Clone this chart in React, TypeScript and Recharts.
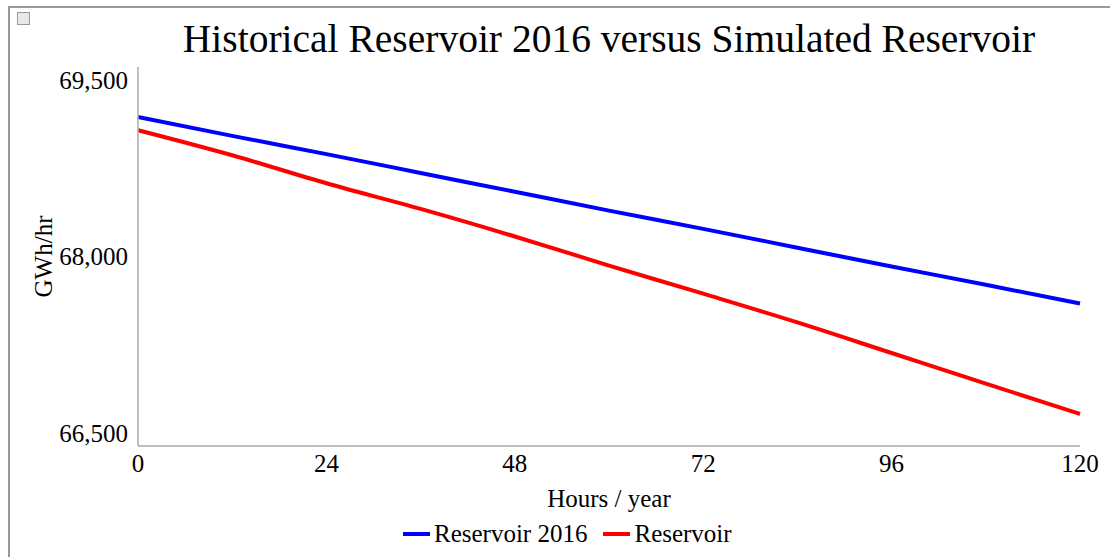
import { Legend, Line, LineChart, XAxis, YAxis } from "recharts";

const hours = [0, 12, 24, 36, 48, 60, 72, 84, 96, 108, 120];
const reservoir2016 = [69185, 69025, 68870, 68710, 68550, 68390, 68235, 68075, 67915, 67760, 67600];
const reservoirSim = [69073, 68860, 68622, 68404, 68170, 67923, 67684, 67440, 67180, 66920, 66662];
const seriesNames = ["Reservoir 2016", "Reservoir"];
const xTicks = [0, 24, 48, 72, 96, 120];
const yTicks = [66500, 68000, 69500];

const data = hours.map((h, i) => ({
  hour: h,
  res2016: reservoir2016[i],
  res: reservoirSim[i],
}));

const FONT = '"Liberation Serif", "Times New Roman", serif';

function formatTick(value: number) {
  return new Intl.NumberFormat("en-US").format(value);
}

function LegendContent(props: any) {
  const payload = [...(props.payload || [])].sort(
    (a: any, b: any) => seriesNames.indexOf(a.value) - seriesNames.indexOf(b.value)
  );
  return (
    <div
      style={{
        display: "flex",
        alignItems: "center",
        height: 30,
        paddingLeft: 403,
        paddingTop: 7,
        boxSizing: "border-box",
        fontFamily: FONT,
        fontSize: 25,
        color: "#000",
      }}
    >
      {payload.map((item: any) => (
        <div
          key={item.value}
          style={{ display: "flex", alignItems: "center", marginRight: 16 }}
        >
          <span
            style={{
              display: "inline-block",
              width: 27,
              height: 4,
              background: item.color,
              marginRight: 4,
            }}
          />
          <span>{item.value}</span>
        </div>
      ))}
    </div>
  );
}

export default function App() {
  return (
    <div
      style={{
        position: "absolute",
        left: 0,
        top: 0,
        width: 1110,
        height: 557,
        overflow: "hidden",
        background: "#ffffff",
        fontFamily: FONT,
      }}
    >
      <div
        style={{
          position: "absolute",
          left: 8,
          top: 6,
          width: 1120,
          height: 700,
          borderLeft: "2px solid #9a9a9a",
          borderTop: "2px solid #9a9a9a",
          boxSizing: "border-box",
        }}
      />
      <div
        style={{
          position: "absolute",
          left: 17,
          top: 12,
          width: 13,
          height: 13,
          border: "1px solid #999",
          boxSizing: "border-box",
          background: "#e8e8e8",
        }}
      />
      <div
        style={{
          position: "absolute",
          left: 0,
          top: 20,
          width: 1218,
          textAlign: "center",
          fontFamily: FONT,
          fontSize: 39.5,
          lineHeight: 1,
          color: "#000",
          whiteSpace: "nowrap",
        }}
      >
        Historical Reservoir 2016 versus Simulated Reservoir
      </div>
      <div style={{ position: "absolute", left: 0, top: 0 }}>
        <LineChart
          width={1110}
          height={557}
          data={data}
          margin={{ top: 67, right: 30, left: 0, bottom: 12 }}
        >
          <XAxis
            dataKey="hour"
            type="number"
            domain={[0, 120]}
            ticks={xTicks}
            height={69}
            tickLine={false}
            tickSize={0}
            tickMargin={8}
            axisLine={{ stroke: "#aaaaaa", strokeWidth: 1.5 }}
            tick={{ fontSize: 25, fill: "#000", fontFamily: FONT }}
            label={{
              value: "Hours / year",
              position: "insideBottom",
              offset: 8,
              style: { fontSize: 25, fill: "#000", fontFamily: FONT },
            }}
          />
          <YAxis
            type="number"
            domain={[66390, 69610]}
            ticks={yTicks}
            width={138}
            tickLine={false}
            tickSize={0}
            tickMargin={10}
            axisLine={{ stroke: "#aaaaaa", strokeWidth: 1.5 }}
            tickFormatter={(v) => formatTick(Number(v))}
            tick={{ fontSize: 25, fill: "#000", fontFamily: FONT }}
            label={{
              value: "GWh/hr",
              angle: -90,
              position: "insideLeft",
              offset: 43,
              style: {
                fontSize: 25,
                fill: "#000",
                fontFamily: FONT,
                textAnchor: "middle",
              },
            }}
          />
          <Legend verticalAlign="bottom" height={30} content={LegendContent} />
          <Line
            name="Reservoir 2016"
            dataKey="res2016"
            stroke="#0000ff"
            strokeWidth={4}
            dot={false}
            type="monotone"
            isAnimationActive={false}
          />
          <Line
            name="Reservoir"
            dataKey="res"
            stroke="#ff0000"
            strokeWidth={4}
            dot={false}
            type="monotone"
            isAnimationActive={false}
          />
        </LineChart>
      </div>
    </div>
  );
}
